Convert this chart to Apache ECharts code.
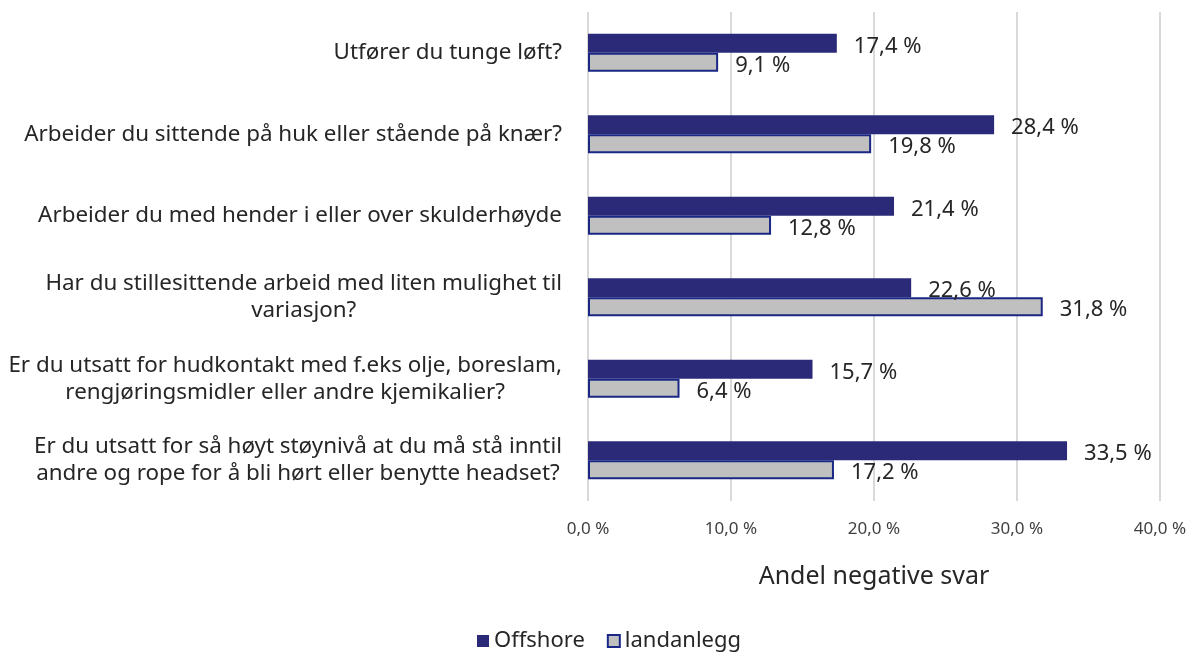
<!DOCTYPE html>
<html>
<head>
<meta charset="utf-8">
<script src="https://cdn.jsdelivr.net/npm/echarts@6/dist/echarts.min.js"></script>
<style>
html,body{margin:0;padding:0;background:#fff;}
#chart{width:1202px;height:657px;}
</style>
</head>
<body>
<div id="chart"></div>
<script>
var categories = [
  "Utfører du tunge løft?",
  "Arbeider du sittende på huk eller stående på knær?",
  "Arbeider du med hender i eller over skulderhøyde",
  "Har du stillesittende arbeid med liten mulighet til\nvariasjon?",
  "Er du utsatt for hudkontakt med f.eks olje, boreslam,\nrengjøringsmidler eller andre kjemikalier?",
  "Er du utsatt for så høyt støynivå at du må stå inntil\nandre og rope for å bli hørt eller benytte headset?"
];
var offshore = [17.4, 28.4, 21.4, 22.6, 15.7, 33.5];
var landanlegg = [9.1, 19.8, 12.8, 31.8, 6.4, 17.2];
var seriesNames = ["Offshore", "landanlegg"];
var axisName = "Andel negative svar";

function fmt(v){ return v.toFixed(1).replace('.', ',') + ' %'; }

var FONT = 'Noto Sans';
var chart = echarts.init(document.getElementById('chart'));
chart.setOption({
  animation: false,
  textStyle: { fontFamily: FONT },
  grid: { left: 588, right: 42, top: 12, bottom: 156, containLabel: false },
  legend: {
    bottom: 0, left: 472,
    itemWidth: 12, itemHeight: 12, itemGap: 22,
    textStyle: { fontSize: 22, color: '#262626', fontFamily: FONT },
    data: [
      { name: seriesNames[0], icon: 'rect' },
      { name: seriesNames[1], icon: 'rect' }
    ]
  },
  xAxis: {
    type: 'value', min: 0, max: 40, interval: 10,
    name: axisName, nameLocation: 'middle', nameGap: 63,
    nameTextStyle: { fontSize: 25, color: '#262626', fontFamily: FONT },
    axisLine: { show: false }, axisTick: { show: false },
    axisLabel: { fontSize: 17, color: '#404040', margin: 20, formatter: function(v){ return fmt(v); } },
    splitLine: { show: true, lineStyle: { color: '#d9d9d9', width: 2 } }
  },
  yAxis: {
    type: 'category', inverse: true, data: categories,
    axisLine: { show: false }, axisTick: { show: false },
    axisLabel: {
      margin: 26, color: '#262626', fontSize: 22.4, lineHeight: 27,
      formatter: function(v){
        return v.split('\n').map(function(l){ return '{c|' + l + '}'; }).join('\n');
      },
      rich: { c: { align: 'center', fontSize: 22.4, lineHeight: 27, color: '#262626', fontFamily: FONT } }
    }
  },
  series: [
    {
      name: seriesNames[0], type: 'bar', data: offshore,
      barWidth: 19, barGap: '0%',
      itemStyle: { color: '#2a2a78' },
      label: { show: true, position: 'right', distance: 17, offset: [0, 3], fontSize: 22, color: '#262626', formatter: function(p){ return fmt(p.value); } }
    },
    {
      name: seriesNames[1], type: 'bar', data: landanlegg,
      barWidth: 19, barGap: '0%',
      itemStyle: { color: '#c0c0c0', borderColor: '#1a2784', borderWidth: 2 },
      label: { show: true, position: 'right', distance: 17, offset: [0, 3], fontSize: 22, color: '#262626', formatter: function(p){ return fmt(p.value); } }
    }
  ]
});
</script>
</body>
</html>
